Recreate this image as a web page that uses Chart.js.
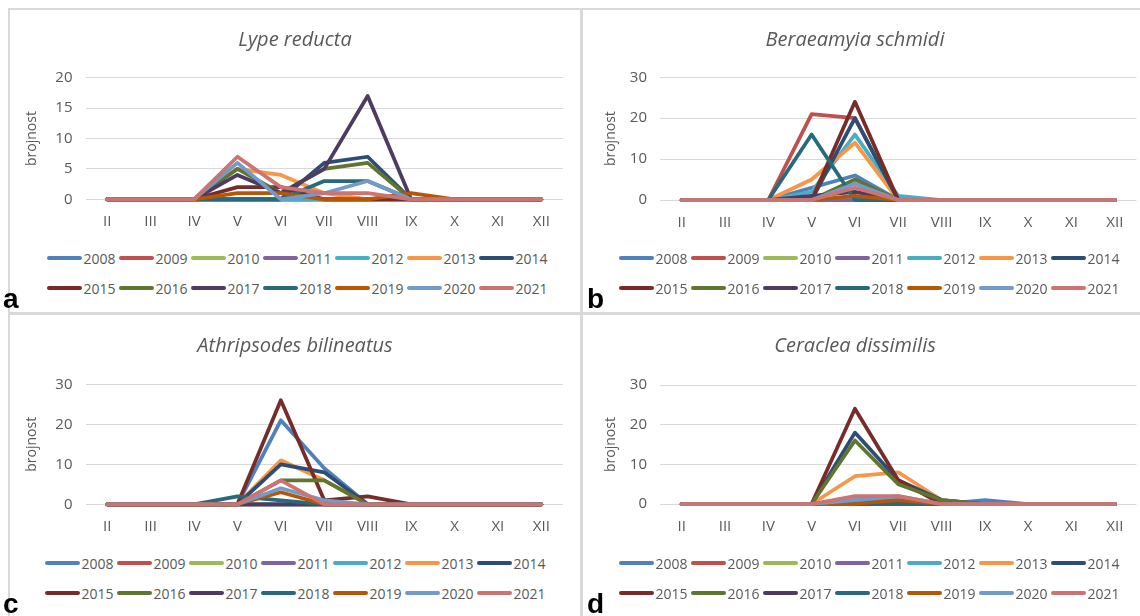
<!DOCTYPE html>
<html>
<head>
<meta charset="utf-8">
<script src="https://cdn.jsdelivr.net/npm/chart.js@4.4.1/dist/chart.umd.min.js"></script>
<style>
  body { margin: 0; width: 1140px; height: 616px; background: #fff; position: relative; overflow: hidden; font-family: 'Open Sans', sans-serif; }
  canvas { position: absolute; }
  .rule { position: absolute; background: #d9d9d9; z-index: 2; }
  .legend { position: absolute; width: 510px; display: flex; flex-wrap: wrap; z-index: 3; }
  .item { display: flex; align-items: center; width: 72px; height: 30px; font-size: 14px; color: #595959; }
  .swatch { width: 35px; height: 4px; border-radius: 2px; margin-right: 1.5px; flex: none; }
  .tag { position: absolute; font: bold 28px 'Liberation Sans', Arial, sans-serif; color: #000; z-index: 3; line-height: 28px; }
</style>
</head>
<body>
<div class="rule" style="left:8px;top:8px;width:1132px;height:2px"></div>
<div class="rule" style="left:8px;top:8px;width:2px;height:608px"></div>
<div class="rule" style="left:580px;top:8px;width:3px;height:608px"></div>
<div class="rule" style="left:8px;top:312px;width:1132px;height:3px"></div>

<canvas id="chartA" width="570" height="230" style="left:10px;top:10px"></canvas>
<canvas id="chartB" width="570" height="230" style="left:570px;top:10px"></canvas>
<canvas id="chartC" width="570" height="230" style="left:10px;top:316px"></canvas>
<canvas id="chartD" width="570" height="230" style="left:570px;top:316px"></canvas>

<div class="legend" id="legendA" style="left:47px;top:243px"></div>
<div class="legend" id="legendB" style="left:619px;top:243px"></div>
<div class="legend" id="legendC" style="left:45px;top:548px"></div>
<div class="legend" id="legendD" style="left:619px;top:548px"></div>

<div class="tag" style="left:3px;top:285px">a</div>
<div class="tag" style="left:587px;top:285px">b</div>
<div class="tag" style="left:3px;top:590px">c</div>
<div class="tag" style="left:587px;top:590px">d</div>

<script>
// months on the x axis
const months = ['II', 'III', 'IV', 'V', 'VI', 'VII', 'VIII', 'IX', 'X', 'XI', 'XII'];
const years = ['2008', '2009', '2010', '2011', '2012', '2013', '2014',
               '2015', '2016', '2017', '2018', '2019', '2020', '2021'];

// one row per year (2008 .. 2021), values for II .. XII
const lypeReducta = [
  [0, 0, 0, 0, 0, 0, 0, 0, 0, 0, 0],
  [0, 0, 0, 0, 0, 0, 0, 0, 0, 0, 0],
  [0, 0, 0, 0, 0, 0, 0, 0, 0, 0, 0],
  [0, 0, 0, 0, 0, 0, 0, 0, 0, 0, 0],
  [0, 0, 0, 0, 0, 0, 0, 0, 0, 0, 0],
  [0, 0, 0, 5, 4, 1, 0, 0, 0, 0, 0],
  [0, 0, 0, 0, 0, 6, 7, 0, 0, 0, 0],
  [0, 0, 0, 2, 2, 0, 0, 0, 0, 0, 0],
  [0, 0, 0, 5, 1, 5, 6, 0, 0, 0, 0],
  [0, 0, 0, 4, 1, 5, 17, 0, 0, 0, 0],
  [0, 0, 0, 0, 0, 3, 3, 0, 0, 0, 0],
  [0, 0, 0, 1, 1, 0, 0, 1, 0, 0, 0],
  [0, 0, 0, 6, 0, 1, 3, 0, 0, 0, 0],
  [0, 0, 0, 7, 2, 1, 1, 0, 0, 0, 0]
];
const beraeamyiaSchmidi = [
  [0, 0, 0, 3, 6, 0, 0, 0, 0, 0, 0],
  [0, 0, 0, 21, 20, 0, 0, 0, 0, 0, 0],
  [0, 0, 0, 0, 0, 0, 0, 0, 0, 0, 0],
  [0, 0, 0, 0, 0, 0, 0, 0, 0, 0, 0],
  [0, 0, 0, 2, 16, 1, 0, 0, 0, 0, 0],
  [0, 0, 0, 5, 14, 0, 0, 0, 0, 0, 0],
  [0, 0, 0, 0, 20, 0, 0, 0, 0, 0, 0],
  [0, 0, 0, 0, 24, 0, 0, 0, 0, 0, 0],
  [0, 0, 0, 0, 5, 0, 0, 0, 0, 0, 0],
  [0, 0, 0, 1, 2, 0, 0, 0, 0, 0, 0],
  [0, 0, 0, 16, 0, 0, 0, 0, 0, 0, 0],
  [0, 0, 0, 0, 1, 0, 0, 0, 0, 0, 0],
  [0, 0, 0, 0, 4, 0, 0, 0, 0, 0, 0],
  [0, 0, 0, 0, 3, 0, 0, 0, 0, 0, 0]
];
const athripsodesBilineatus = [
  [0, 0, 0, 0, 21, 9, 0, 0, 0, 0, 0],
  [0, 0, 0, 0, 0, 0, 0, 0, 0, 0, 0],
  [0, 0, 0, 0, 0, 0, 0, 0, 0, 0, 0],
  [0, 0, 0, 0, 0, 0, 0, 0, 0, 0, 0],
  [0, 0, 0, 0, 0, 0, 0, 0, 0, 0, 0],
  [0, 0, 0, 0, 11, 6, 0, 0, 0, 0, 0],
  [0, 0, 0, 0, 10, 8, 0, 0, 0, 0, 0],
  [0, 0, 0, 0, 26, 1, 2, 0, 0, 0, 0],
  [0, 0, 0, 0, 6, 6, 0, 0, 0, 0, 0],
  [0, 0, 0, 0, 0, 0, 0, 0, 0, 0, 0],
  [0, 0, 0, 2, 1, 0, 0, 0, 0, 0, 0],
  [0, 0, 0, 0, 3, 0, 0, 0, 0, 0, 0],
  [0, 0, 0, 0, 4, 1, 0, 0, 0, 0, 0],
  [0, 0, 0, 0, 6, 0, 0, 0, 0, 0, 0]
];
const ceracleaDissimilis = [
  [0, 0, 0, 0, 1, 1, 0, 1, 0, 0, 0],
  [0, 0, 0, 0, 0, 0, 0, 0, 0, 0, 0],
  [0, 0, 0, 0, 0, 0, 0, 0, 0, 0, 0],
  [0, 0, 0, 0, 0, 0, 0, 0, 0, 0, 0],
  [0, 0, 0, 0, 0, 0, 0, 0, 0, 0, 0],
  [0, 0, 0, 0, 7, 8, 1, 0, 0, 0, 0],
  [0, 0, 0, 0, 18, 6, 1, 0, 0, 0, 0],
  [0, 0, 0, 0, 24, 6, 0, 0, 0, 0, 0],
  [0, 0, 0, 0, 16, 5, 1, 0, 0, 0, 0],
  [0, 0, 0, 0, 0, 0, 0, 0, 0, 0, 0],
  [0, 0, 0, 0, 0, 0, 0, 0, 0, 0, 0],
  [0, 0, 0, 0, 0, 1, 0, 0, 0, 0, 0],
  [0, 0, 0, 0, 1, 2, 0, 0, 0, 0, 0],
  [0, 0, 0, 0, 2, 2, 0, 0, 0, 0, 0]
];

const yearColors = ['#4F81BD', '#C0504D', '#9BBB59', '#8064A2', '#4BACC6', '#F79646', '#2C4D75',
                    '#772C2A', '#5F7530', '#4D3B62', '#276A7C', '#B65708', '#729ACA', '#CD7371'];
const textColor = '#595959';

Chart.defaults.font.family = "'Open Sans', sans-serif";

function makePanel(canvasId, legendId, title, rows, yMax, yStep, g) {
  const datasets = years.map((yr, i) => ({
    label: yr,
    data: rows[i],
    borderColor: yearColors[i],
    backgroundColor: yearColors[i],
    borderWidth: 3.75,
    pointRadius: 0,
    tension: 0,
    borderJoinStyle: 'round',
    borderCapStyle: 'round',
    clip: false,
    order: years.length - i
  }));

  const chart = new Chart(document.getElementById(canvasId), {
    type: 'line',
    data: { labels: months, datasets: datasets },
    options: {
      responsive: false,
      animation: false,
      devicePixelRatio: 1,
      layout: { padding: 0 },
      plugins: {
        legend: { display: false },
        tooltip: { enabled: false },
        title: {
          display: true,
          text: title,
          color: textColor,
          font: { size: 20, style: 'italic', weight: 'normal' },
          padding: { top: g.titleTop, bottom: g.titleBottom }
        }
      },
      scales: {
        x: {
          offset: true,
          grid: { display: false, drawTicks: false },
          border: { display: false },
          ticks: { color: textColor, font: { size: 15 }, padding: 13.5, maxRotation: 0, autoSkip: false },
          afterFit: s => { s.height = g.xH; }
        },
        y: {
          min: 0,
          max: yMax,
          ticks: { stepSize: yStep, color: textColor, font: { size: 15 }, padding: 13 },
          grid: { color: '#d9d9d9', lineWidth: 1, drawTicks: false },
          border: { display: false },
          title: { display: true, text: 'brojnost', color: textColor, font: { size: 14 }, padding: { top: g.yTitlePad, bottom: 0 } },
          afterFit: s => { s.width = g.yW; }
        },
        spacer: {
          type: 'linear',
          position: 'right',
          grid: { display: false },
          ticks: { display: false },
          border: { display: false },
          afterFit: s => { s.width = g.rW; }
        }
      }
    }
  });

  // html legend, two rows of seven
  const box = document.getElementById(legendId);
  chart.data.datasets.forEach(ds => {
    const item = document.createElement('div');
    item.className = 'item';
    const sw = document.createElement('span');
    sw.className = 'swatch';
    sw.style.background = ds.borderColor;
    item.appendChild(sw);
    item.appendChild(document.createTextNode(ds.label));
    box.appendChild(item);
  });
  return chart;
}

makePanel('chartA', 'legendA', 'Lype reducta', lypeReducta, 20, 5,
  { titleTop: 18, titleBottom: 25.7, xH: 40.7, yW: 75.5, rW: 17, yTitlePad: 13.6 });
makePanel('chartB', 'legendB', 'Beraeamyia schmidi', beraeamyiaSchmidi, 30, 10,
  { titleTop: 18, titleBottom: 25.3, xH: 40, yW: 90, rW: 3.5, yTitlePad: 32.6 });
makePanel('chartC', 'legendC', 'Athripsodes bilineatus', athripsodesBilineatus, 30, 10,
  { titleTop: 18, titleBottom: 26.3, xH: 41.7, yW: 75.5, rW: 17, yTitlePad: 13.6 });
makePanel('chartD', 'legendD', 'Ceraclea dissimilis', ceracleaDissimilis, 30, 10,
  { titleTop: 18, titleBottom: 27, xH: 42, yW: 90, rW: 3.5, yTitlePad: 32.6 });
</script>
</body>
</html>
